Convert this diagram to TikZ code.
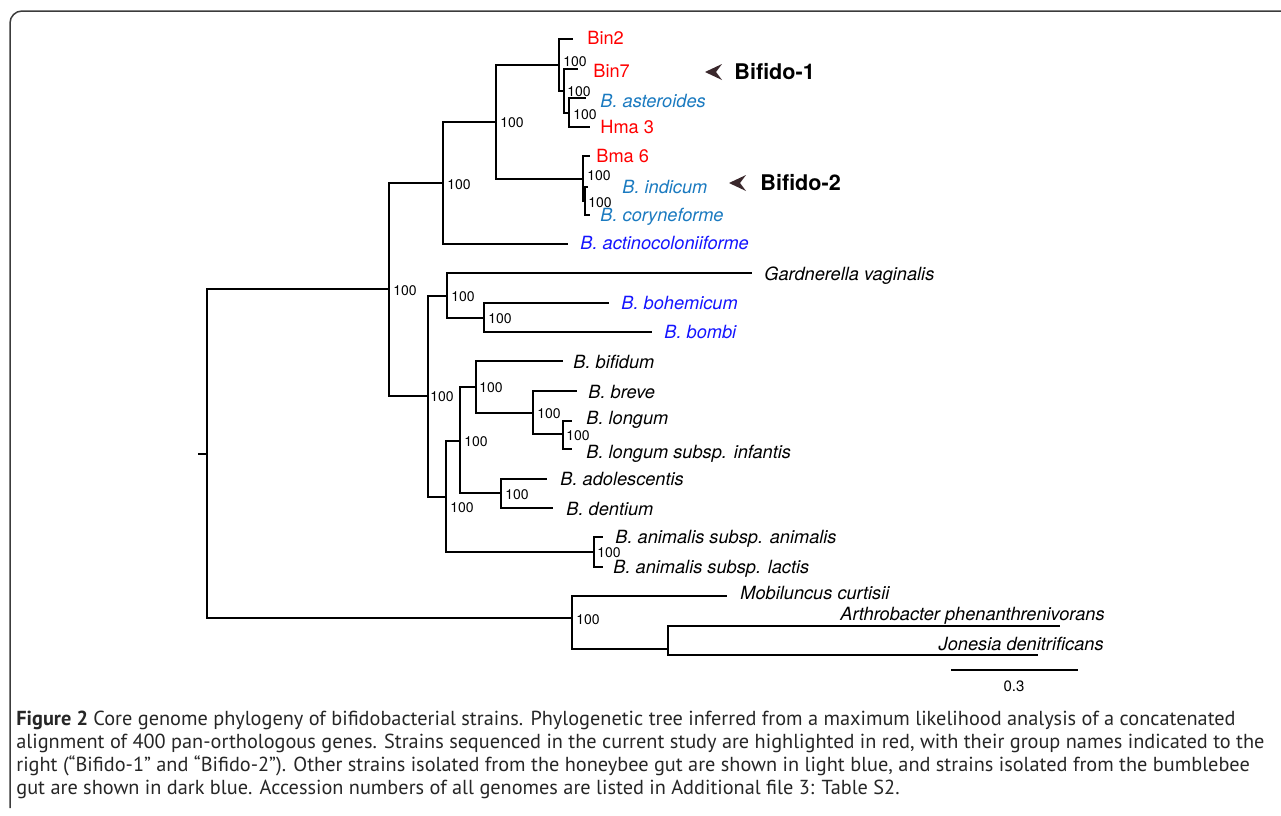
\documentclass[tikz,border=0pt]{standalone}
\usepackage{fontspec}
\setmainfont{TeX Gyre Heros}
\newfontfamily\capfont{PT Sans}
\usetikzlibrary{positioning}
\definecolor{strainred}{RGB}{255,0,0}
\definecolor{honeyblue}{RGB}{26,122,192}
\definecolor{bumbleblue}{RGB}{20,20,255}
\definecolor{arrowc}{RGB}{58,40,44}
\definecolor{framec}{RGB}{60,60,60}
\tikzset{%
    branch/.style={line width=0.7pt},
    leaf/.style={anchor=west, inner sep=0pt, text height=0.72em, text depth=0pt,
        font=\fontsize{9.1}{11}\selectfont\itshape},
    strain/.style={leaf, font=\fontsize{9.1}{11}\selectfont, text=strainred},
    honey/.style={leaf, text=honeyblue},
    bumble/.style={leaf, text=bumbleblue},
    boot/.style={anchor=west, inner sep=0pt, text height=0.72em, text depth=0pt,
        font=\fontsize{7}{8}\selectfont},
    group/.style={anchor=west, inner sep=0pt, text height=0.72em, text depth=0pt,
        font=\fontsize{10.8}{12}\selectfont\bfseries},
    chevron/.pic={\fill[arrowc] (0,0) -- (17,-8) -- (11,0) -- (17,8) -- cycle;}
}

\begin{document}
\begin{tikzpicture}[x=0.5pt,y=-0.5pt]
\useasboundingbox (0,0) rectangle (1281,815);
\draw[framec, line width=0.75pt, rounded corners=6pt] (10,808) -- (10,11) -- (1281,11);

% internal nodes
\coordinate (stub) at (198,454);
\coordinate (root) at (207,454);
\coordinate (nA) at (389,289);
\coordinate (nB) at (443,183);
\coordinate (nC) at (496,122);
\coordinate (nD) at (559,65);
\coordinate (nE) at (564,91);
\coordinate (nF) at (569,113);
\coordinate (nG) at (583,179);
\coordinate (nH) at (585,201);
\coordinate (nI) at (428,396);
\coordinate (nJ) at (447,296);
\coordinate (nK) at (484,318);
\coordinate (nL) at (446,497);
\coordinate (nM) at (460,441);
\coordinate (nN) at (476,387);
\coordinate (nO) at (533,413);
\coordinate (nP) at (563,434);
\coordinate (nQ) at (501,493);
\coordinate (nR) at (594,552);
\coordinate (nS) at (572,618);
\coordinate (nT) at (668,649);

% leaf tips
\coordinate (tBinB) at (573,39);
\coordinate (tBinS) at (578,69);
\coordinate (tAst) at (586,98);
\coordinate (tHma) at (590,127);
\coordinate (tBma) at (590,156);
\coordinate (tInd) at (588,187);
\coordinate (tCor) at (590,215);
\coordinate (tAct) at (568,244);
\coordinate (tGar) at (752,273);
\coordinate (tBoh) at (609,303);
\coordinate (tBom) at (652,332);
\coordinate (tBif) at (563,361);
\coordinate (tBre) at (577,391);
\coordinate (tLon) at (572,421);
\coordinate (tInf) at (572,449);
\coordinate (tAdo) at (547,479);
\coordinate (tDen) at (553,508);
\coordinate (tAni) at (603,537);
\coordinate (tLac) at (603,567);
\coordinate (tMob) at (727,596);
\coordinate (tArt) at (1060,626);
\coordinate (tJon) at (1038,655);

% branches
\draw[branch] (stub) -- (root);
\draw[branch] (root) |- (nA);
\draw[branch] (root) |- (nS);
\draw[branch] (nA) |- (nB);
\draw[branch] (nA) |- (nI);
\draw[branch] (nB) |- (nC);
\draw[branch] (nB) |- (tAct);
\draw[branch] (nC) |- (nD);
\draw[branch] (nC) |- (nG);
\draw[branch] (nD) |- (tBinB);
\draw[branch] (nD) |- (nE);
\draw[branch] (nE) |- (tBinS);
\draw[branch] (nE) |- (nF);
\draw[branch] (nF) |- (tAst);
\draw[branch] (nF) |- (tHma);
\draw[branch] (nG) |- (tBma);
\draw[branch] (nG) |- (nH);
\draw[branch] (nH) |- (tInd);
\draw[branch] (nH) |- (tCor);
\draw[branch] (nI) |- (nJ);
\draw[branch] (nI) |- (nL);
\draw[branch] (nJ) |- (tGar);
\draw[branch] (nJ) |- (nK);
\draw[branch] (nK) |- (tBoh);
\draw[branch] (nK) |- (tBom);
\draw[branch] (nL) |- (nM);
\draw[branch] (nL) |- (nR);
\draw[branch] (nM) |- (nN);
\draw[branch] (nM) |- (nQ);
\draw[branch] (nN) |- (tBif);
\draw[branch] (nN) |- (nO);
\draw[branch] (nO) |- (tBre);
\draw[branch] (nO) |- (nP);
\draw[branch] (nP) |- (tLon);
\draw[branch] (nP) |- (tInf);
\draw[branch] (nQ) |- (tAdo);
\draw[branch] (nQ) |- (tDen);
\draw[branch] (nR) |- (tAni);
\draw[branch] (nR) |- (tLac);
\draw[branch] (nS) |- (tMob);
\draw[branch] (nS) |- (nT);
\draw[branch] (nT) |- (tArt);
\draw[branch] (nT) |- (tJon);

% bootstrap values
\node[boot] (bA) at (393,288) {100};
\node[boot] (bB) at (447,182) {100};
\node[boot] (bC) at (500,120) {100};
\node[boot] (bD) at (563,59) {100};
\node[boot] (bE) at (567,89) {100};
\node[boot] (bF) at (573,112) {100};
\node[boot] (bG) at (587,173) {100};
\node[boot] (bH) at (588,200) {100};
\node[boot] (bI) at (430,394) {100};
\node[boot] (bJ) at (451,294) {100};
\node[boot] (bK) at (488,316) {100};
\node[boot] (bL) at (450,505) {100};
\node[boot] (bM) at (464,439) {100};
\node[boot] (bN) at (479,385) {100};
\node[boot] (bO) at (537,411) {100};
\node[boot] (bP) at (566,433) {100};
\node[boot] (bQ) at (505,492) {100};
\node[boot] (bR) at (597,550) {100};
\node[boot] (bS) at (576,617) {100};

% taxa
\node[strain] (lBinB) at (587,37) {Bin2};
\node[strain] (lBinS) at (593,70) {Bin7};
\node[honey] (lAst) at (600,100) {B. asteroides};
\node[strain] (lHma) at (600,126) {Hma 3};
\node[strain] (lBma) at (596,155) {Bma 6};
\node[honey] (lInd) at (622,186) {B. indicum};
\node[honey] (lCor) at (600,214) {B. coryneforme};
\node[bumble] (lAct) at (580,242) {B. actinocoloniiforme};
\node[leaf] (lGar) at (764,273) {Gardnerella vaginalis};
\node[bumble] (lBoh) at (621,302) {B. bohemicum};
\node[bumble] (lBom) at (664,331) {B. bombi};
\node[leaf] (lBif) at (573,361) {B. bifidum};
\node[leaf] (lBre) at (588,391) {B. breve};
\node[leaf] (lLon) at (586,417) {B. longum};
\node[leaf] (lInf) at (586,451) {B. longum subsp. infantis};
\node[leaf] (lAdo) at (560,478) {B. adolescentis};
\node[leaf] (lDen) at (566,508) {B. dentium};
\node[leaf] (lAni) at (615,536) {B. animalis subsp. animalis};
\node[leaf] (lLac) at (613,566) {B. animalis subsp. lactis};
\node[leaf] (lMob) at (740,592) {Mobiluncus curtisii};
\node[leaf, anchor=east] (lArt) at (1105,613) {Arthrobacter phenanthrenivorans};
\node[leaf, anchor=east] (lJon) at (1104,643) {Jonesia denitrificans};

% strain groups
\pic (arrOne) at (705,72) {chevron};
\node[group] (gOne) at (734,72) {Bifido-1};
\pic (arrTwo) at (729,183) {chevron};
\node[group] (gTwo) at (760,183) {Bifido-2};

% scale bar
\coordinate (sbL) at (951,670);
\coordinate (sbR) at (1078,670);
\draw[branch] (sbL) -- (sbR);
\node[inner sep=0pt, font=\fontsize{7.5}{8}\selectfont] (sbT) at (1014,686) {0.3};

% caption
\node[anchor=base west, inner sep=0pt, align=left, text=black!85,
      font=\capfont\fontsize{10.15}{11.5}\selectfont] (cap) at (16,794)
  {\textbf{Figure 2} Core genome phylogeny of bifidobacterial strains. Phylogenetic tree inferred from a maximum likelihood analysis of a concatenated\\
   alignment of 400 pan-orthologous genes. Strains sequenced in the current study are highlighted in red, with their group names indicated to the\\
   right (“Bifido-1” and “Bifido-2”). Other strains isolated from the honeybee gut are shown in light blue, and strains isolated from the bumblebee\\
   gut are shown in dark blue. Accession numbers of all genomes are listed in Additional file 3: Table S2.};
\end{tikzpicture}
\end{document}
